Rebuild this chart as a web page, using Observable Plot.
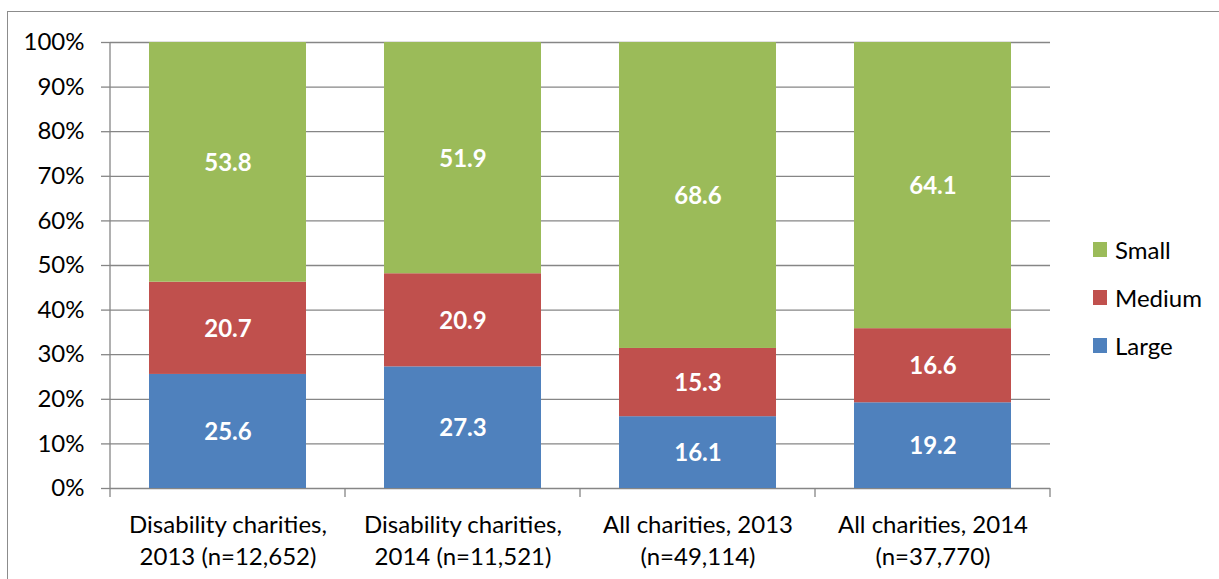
<!DOCTYPE html>
<html><head><meta charset="utf-8">
<script src="https://cdn.jsdelivr.net/npm/d3@7"></script>
<script src="https://cdn.jsdelivr.net/npm/@observablehq/plot@0.6"></script>
<style>
html,body{margin:0;padding:0;background:#fff;}
body{width:1219px;height:579px;overflow:hidden;position:relative;font-family:Lato,"Open Sans",sans-serif;}
#border{position:absolute;left:7px;top:11px;width:1400px;height:800px;border:1.5px solid #8c8c8c;box-sizing:border-box;}
#chart{position:absolute;left:0;top:0;}
#legend{position:absolute;left:1093px;top:234px;display:flex;flex-direction:column;gap:18px;}
.item{display:flex;align-items:center;height:30px;font-size:24px;color:#000;}
.sw{width:14px;height:15px;margin-right:8px;}
</style></head><body>
<div id="border"></div><div id="chart"></div><div id="legend"></div>
<script>
const categories = [
  "Disability charities,\n2013 (n=12,652)",
  "Disability charities,\n2014 (n=11,521)",
  "All charities, 2013\n(n=49,114)",
  "All charities, 2014\n(n=37,770)"
];
const sizes = ["Large", "Medium", "Small"];
const colors = ["#4F81BD", "#C0504D", "#9BBB59"];
const large = [25.6, 27.3, 16.1, 19.2];
const medium = [20.7, 20.9, 15.3, 16.6];
const small = [53.8, 51.9, 68.6, 64.1];
const yTicks = [0, 0.1, 0.2, 0.3, 0.4, 0.5, 0.6, 0.7, 0.8, 0.9, 1];
const yTickLabels = ["0%", "10%", "20%", "30%", "40%", "50%", "60%", "70%", "80%", "90%", "100%"];

const series = {Large: large, Medium: medium, Small: small};
const data = categories.flatMap((cat, i) => sizes.map(size => ({cat, size, value: series[size][i]})));

function excelAxisLines(index, scales, values, dims) {
  const x = scales.x;
  const {marginLeft, marginTop, marginBottom, marginRight, height, width} = dims;
  const step = typeof x.step === "function" ? x.step() : (width - marginLeft - marginRight) / categories.length;
  let bw = typeof x.bandwidth === "function" ? x.bandwidth() : x.bandwidth;
  if (!(bw > 0)) bw = step * (1 - 0.333);
  const g = d3.create("svg:g").attr("stroke", "#868686").attr("stroke-width", 1.3);
  const y0 = height - marginBottom;
  g.append("line").attr("x1", marginLeft).attr("x2", marginLeft).attr("y1", marginTop).attr("y2", y0);
  const bounds = categories.map(c => x(c) + bw / 2 - step / 2)
    .concat([x(categories[categories.length - 1]) + bw / 2 + step / 2]);
  for (const b of bounds) {
    g.append("line").attr("x1", b).attr("x2", b).attr("y1", y0).attr("y2", y0 + 9);
  }
  return g.node();
}

const chart = Plot.plot({
  width: 1219, height: 579,
  marginLeft: 110, marginRight: 169, marginTop: 42, marginBottom: 91,
  style: {fontFamily: "Lato, sans-serif", fontSize: "24px", color: "#000", background: "transparent", overflow: "visible"},
  x: {domain: categories, paddingInner: 0.333, paddingOuter: 0.1665, label: null},
  y: {domain: [0, 1], label: null},
  color: {domain: sizes, range: colors},
  marks: [
    Plot.gridY(yTicks, {stroke: "#868686", strokeOpacity: 1, strokeWidth: 1.3}),
    Plot.barY(data, Plot.stackY({offset: "normalize"}, {x: "cat", y: "value", fill: "size"})),
    Plot.text(data, Plot.stackY({offset: "normalize"}, {x: "cat", y: "value", text: d => d.value.toFixed(1), fill: "white", fontWeight: "bold", fontSize: 24, dy: 1})),
    Plot.axisY(yTicks, {tickFormat: d => yTickLabels[yTicks.indexOf(d)], tickSize: 9, tickPadding: 17, stroke: "#868686", strokeWidth: 1.3, fontSize: 24, fill: "#000", label: null}),
    Plot.axisX({tickSize: 0, tickPadding: 22, fontSize: 24, lineHeight: 1.33, label: null, fill: "#000"}),
    excelAxisLines
  ]
});
document.getElementById("chart").appendChild(chart);

const legend = d3.select("#legend");
for (const s of sizes.slice().reverse()) {
  const item = legend.append("div").attr("class", "item");
  item.append("div").attr("class", "sw").style("background", colors[sizes.indexOf(s)]);
  item.append("span").text(s);
}
</script>
</body></html>
